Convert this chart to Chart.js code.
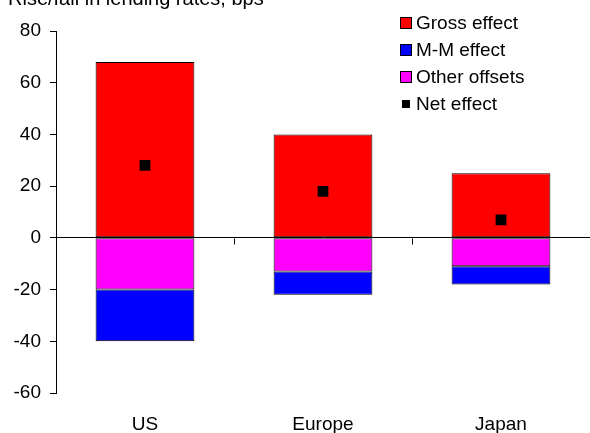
<!DOCTYPE html>
<html>
<head>
<meta charset="utf-8">
<script src="https://cdn.jsdelivr.net/npm/chart.js@4/dist/chart.umd.min.js"></script>
<style>
  html, body { margin: 0; padding: 0; background: #fff; overflow: hidden; }
  #wrap { position: relative; width: 590px; height: 433px; font-family: "Liberation Sans", Arial, sans-serif; }
  #title { position: absolute; left: 8px; top: -13px; font-size: 20px; color: #000; white-space: nowrap; }
  #legend { position: absolute; left: 400px; top: 9px; font-size: 19px; color: #000; }
  #legend .row { height: 27px; line-height: 27px; display: flex; align-items: center; }
  #legend .box { width: 12px; height: 12px; box-sizing: border-box; border: 1px solid #000; margin-right: 4px; }
  #legend .dot { width: 8px; height: 8px; background: #000; margin: 0 6px 0 2px; }
</style>
</head>
<body>
<div id="wrap">
  <canvas id="ch"></canvas>
  <div id="title">Rise/fall in lending rates, bps</div>
  <div id="legend"></div>
</div>
<script>
// valori (bps)
const categories = ['US', 'Europe', 'Japan'];
const grossEffect = [68, 40, 25];
const mmEffect = [-20, -9, -7];
const otherOffsets = [-20, -13, -11];
const netEffect = [28, 18, 7];
const yTicks = [80, 60, 40, 20, 0, -20, -40, -60];

const FONT = '"Liberation Sans", Arial, sans-serif';

// trattini sotto la linea dello zero, tra una categoria e l'altra
const catTicks = {
  id: 'catTicks',
  afterDatasetsDraw(chart) {
    const x = chart.scales.x, y = chart.scales.y;
    const y0 = Math.round(y.getPixelForValue(0)) + 0.5;
    const c = chart.ctx;
    c.save();
    c.strokeStyle = '#000';
    c.lineWidth = 1;
    for (let i = 1; i < categories.length; i++) {
      const px = Math.round(x.getPixelForValue(i - 0.5)) + 0.5;
      c.beginPath();
      c.moveTo(px, y0);
      c.lineTo(px, y0 + 6);
      c.stroke();
    }
    c.restore();
  }
};

const barStyle = { borderColor: '#000', borderWidth: 1, borderSkipped: false, stack: 's' };

const chart = new Chart(document.getElementById('ch'), {
  type: 'bar',
  data: {
    labels: categories,
    datasets: [
      Object.assign({ label: 'Gross effect', data: grossEffect, backgroundColor: '#ff0000' }, barStyle),
      Object.assign({ label: 'Other offsets', data: otherOffsets, backgroundColor: '#ff00ff' }, barStyle),
      Object.assign({ label: 'M-M effect', data: mmEffect, backgroundColor: '#0000ff' }, barStyle),
      {
        type: 'line', label: 'Net effect', data: netEffect, stack: 'net', order: -1,
        showLine: false, pointStyle: 'rect', pointRadius: 7.6, pointHoverRadius: 7.6,
        pointBackgroundColor: '#000', pointBorderWidth: 0, borderColor: '#000', backgroundColor: '#000'
      }
    ]
  },
  options: {
    responsive: true,
    maintainAspectRatio: false,
    animation: false,
    layout: { autoPadding: false, padding: { top: 31, left: 0, right: 0, bottom: 0 } },
    plugins: { legend: { display: false }, tooltip: { enabled: false }, title: { display: false } },
    datasets: { bar: { categoryPercentage: 1, barPercentage: 0.555 } },
    scales: {
      x: {
        stacked: true,
        grid: { display: false, drawTicks: false },
        border: { display: false },
        ticks: { color: '#000', font: { family: FONT, size: 19 }, padding: 20 },
        afterFit: s => { s.height = 40; }
      },
      y: {
        stacked: true,
        min: -60, max: 80,
        afterBuildTicks: s => { s.ticks = yTicks.map(v => ({ value: v })); },
        ticks: { color: '#000', font: { family: FONT, size: 19 }, padding: 9 },
        grid: {
          color: c => c.tick && c.tick.value === 0 ? '#000' : 'rgba(0,0,0,0)',
          tickColor: '#000', tickLength: 6, lineWidth: 1
        },
        border: { display: true, color: '#000', width: 1 },
        afterFit: s => { s.width = 56; }
      }
    }
  },
  plugins: [catTicks]
});

// legenda nell'ordine del grafico originale
const legendItems = [
  { label: 'Gross effect', color: '#ff0000' },
  { label: 'M-M effect', color: '#0000ff' },
  { label: 'Other offsets', color: '#ff00ff' },
  { label: 'Net effect', color: null }
];
document.getElementById('legend').innerHTML = legendItems.map(it =>
  '<div class="row">' + (it.color ? '<span class="box" style="background:' + it.color + '"></span>' : '<span class="dot"></span>') +
  '<span>' + it.label + '</span></div>').join('');
</script>
</body>
</html>
